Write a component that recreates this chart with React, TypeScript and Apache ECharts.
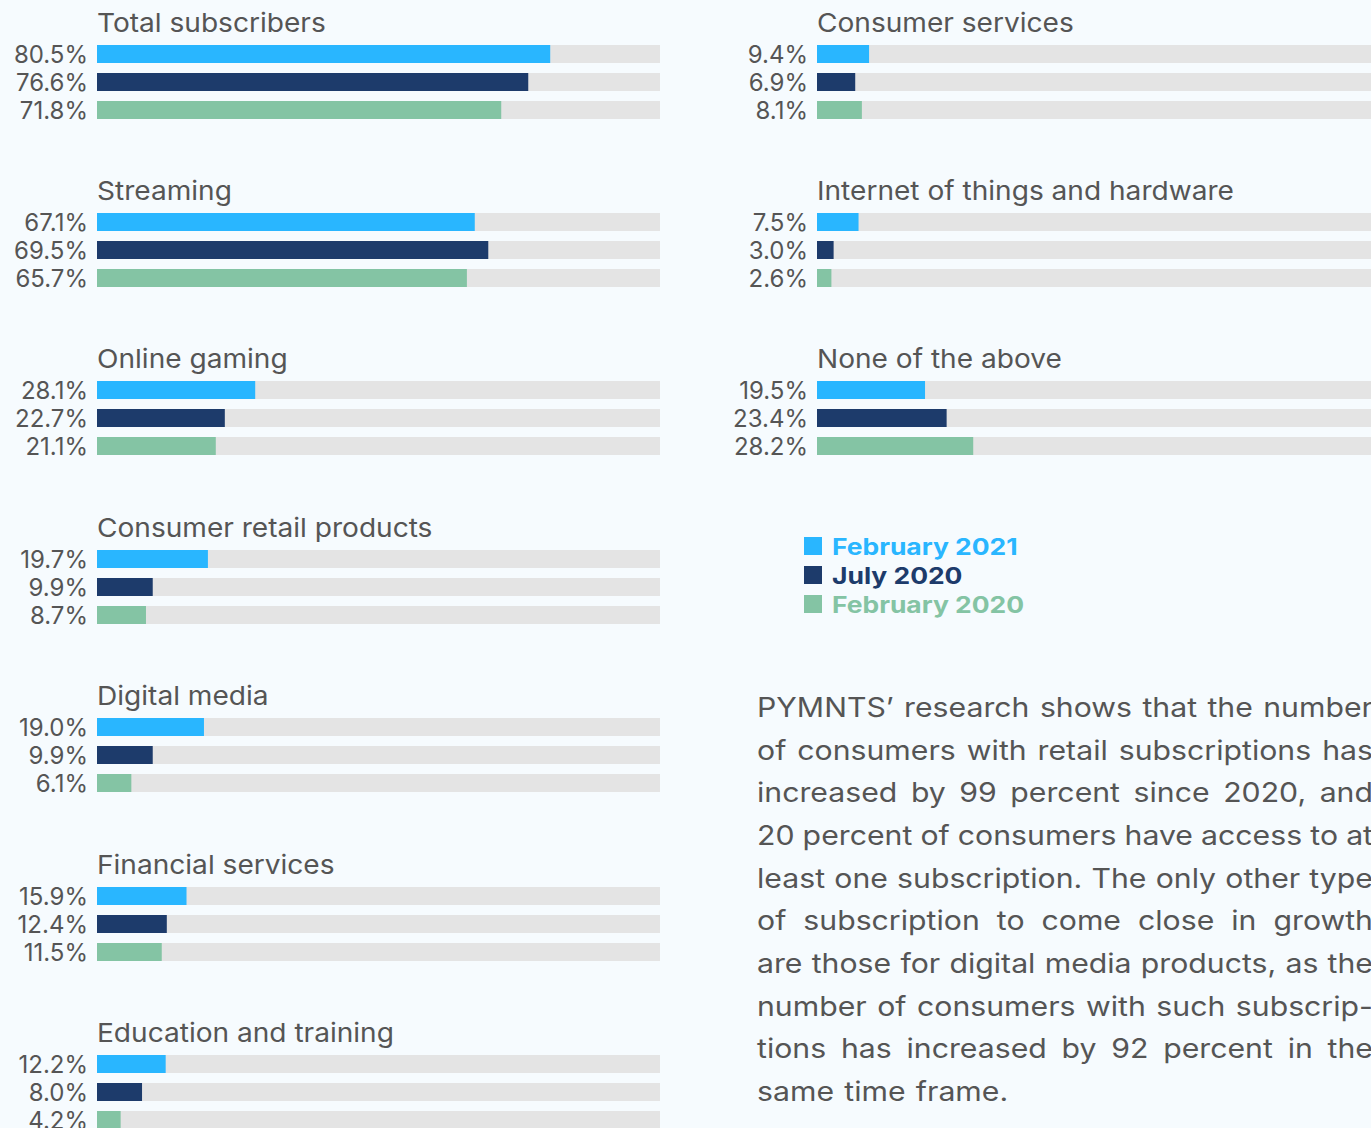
import React, { useEffect, useRef } from "react";
import * as echarts from "echarts";

const PERIODS = ["February 2021", "July 2020", "February 2020"];
const PERIOD_COLORS = ["#29b6ff", "#1d3b6b", "#84c4a4"];

const LEFT_CATEGORIES = [
  "Total subscribers",
  "Streaming",
  "Online gaming",
  "Consumer retail products",
  "Digital media",
  "Financial services",
  "Education and training",
];
const LEFT_VALUES = [
  [80.5, 76.6, 71.8],
  [67.1, 69.5, 65.7],
  [28.1, 22.7, 21.1],
  [19.7, 9.9, 8.7],
  [19.0, 9.9, 6.1],
  [15.9, 12.4, 11.5],
  [12.2, 8.0, 4.2],
];
const RIGHT_CATEGORIES = [
  "Consumer services",
  "Internet of things and hardware",
  "None of the above",
];
const RIGHT_VALUES = [
  [9.4, 6.9, 8.1],
  [7.5, 3.0, 2.6],
  [19.5, 23.4, 28.2],
];

const PARAGRAPH_LINES = [
  "PYMNTS’ research shows that the number",
  "of consumers with retail subscriptions has",
  "increased by 99 percent since 2020, and",
  "20 percent of consumers have access to at",
  "least one subscription. The only other type",
  "of subscription to come close in growth",
  "are those for digital media products, as the",
  "number of consumers with such subscrip-",
  "tions has increased by 92 percent in the",
  "same time frame.",
];

const FONT = "Inter, 'Noto Sans', sans-serif";
const TEXT_COLOR = "#555555";
const BG = "#f6fbfe";

export default function App() {
  const ref = useRef<HTMLDivElement>(null);

  useEffect(() => {
    document.body.style.margin = "0";
    document.body.style.background = BG;
    document.body.style.overflow = "hidden";
    if (!ref.current) return;
    const chart = echarts.init(ref.current, null, { renderer: "svg" });

    const groups: { name: string; vals: number[]; left: number; top: number }[] = [];
    const leftTops = [40, 208, 376, 545, 713, 882, 1050];
    const rightTops = [40, 208, 376];
    LEFT_CATEGORIES.forEach((n, i) =>
      groups.push({ name: n, vals: LEFT_VALUES[i], left: 97, top: leftTops[i] })
    );
    RIGHT_CATEGORIES.forEach((n, i) =>
      groups.push({ name: n, vals: RIGHT_VALUES[i], left: 817, top: rightTops[i] })
    );

    const grid: any[] = [];
    const xAxis: any[] = [];
    const yAxis: any[] = [];
    const series: any[] = [];
    const graphic: any[] = [];

    groups.forEach((g, i) => {
      grid.push({ left: g.left, top: g.top, width: 563, height: 84 });
      xAxis.push({ gridIndex: i, type: "value", min: 0, max: 100, show: false });
      yAxis.push({
        gridIndex: i,
        type: "category",
        inverse: true,
        data: PERIODS,
        axisLine: { show: false },
        axisTick: { show: false },
        splitLine: { show: false },
        axisLabel: {
          interval: 0,
          margin: 9,
          fontFamily: FONT,
          fontSize: 24,
          color: TEXT_COLOR,
          formatter: (_v: string, idx: number) => g.vals[idx].toFixed(1) + "%",
        },
      });
      series.push({
        type: "bar",
        name: g.name,
        xAxisIndex: i,
        yAxisIndex: i,
        barWidth: 18,
        showBackground: true,
        backgroundStyle: { color: "#e4e4e4" },
        data: g.vals.map((v, k) => ({ value: v, itemStyle: { color: PERIOD_COLORS[k] } })),
        label: { show: false },
      });
      graphic.push({
        type: "text",
        x: g.left,
        y: g.top - 17,
        scaleX: 1.08,
        style: {
          text: g.name,
          font: `400 26px ${FONT}`,
          fill: TEXT_COLOR,
          textVerticalAlign: "middle",
        },
      });
    });

    // legend
    PERIODS.forEach((p, k) => {
      graphic.push({
        type: "rect",
        shape: { x: 804, y: 537 + k * 29, width: 18, height: 18 },
        style: { fill: PERIOD_COLORS[k] },
      });
      graphic.push({
        type: "text",
        x: 832,
        y: 547 + k * 29,
        scaleX: 1.15,
        style: {
          text: p,
          font: `700 23px ${FONT}`,
          fill: PERIOD_COLORS[k],
          textVerticalAlign: "middle",
        },
      });
    });

    // justified paragraph
    const canvas = document.createElement("canvas");
    const ctx = canvas.getContext("2d")!;
    const pFont = `400 27px ${FONT}`;
    const pScale = 1.12;
    ctx.font = pFont;
    const x0 = 757;
    const x1 = 1373;
    PARAGRAPH_LINES.forEach((line, li) => {
      const y = 707 + li * 42.7;
      const last = li === PARAGRAPH_LINES.length - 1;
      const words = line.split(" ");
      const widths = words.map((w) => ctx.measureText(w).width * pScale);
      const total = widths.reduce((a, b) => a + b, 0);
      const gap = last
        ? ctx.measureText(" ").width * pScale * 1.2
        : (x1 - x0 - total) / (words.length - 1);
      let x = x0;
      words.forEach((w, wi) => {
        graphic.push({
          type: "text",
          x,
          y,
          scaleX: pScale,
          style: { text: w, font: pFont, fill: TEXT_COLOR, textVerticalAlign: "middle" },
        });
        x += widths[wi] + gap;
      });
    });

    chart.setOption({
      animation: false,
      backgroundColor: BG,
      grid,
      xAxis,
      yAxis,
      series,
      graphic,
    });

    return () => chart.dispose();
  }, []);

  return (
    <div style={{ width: 1371, height: 1128, overflow: "hidden", background: BG }}>
      <div ref={ref} style={{ width: 1371, height: 1160 }} />
    </div>
  );
}
